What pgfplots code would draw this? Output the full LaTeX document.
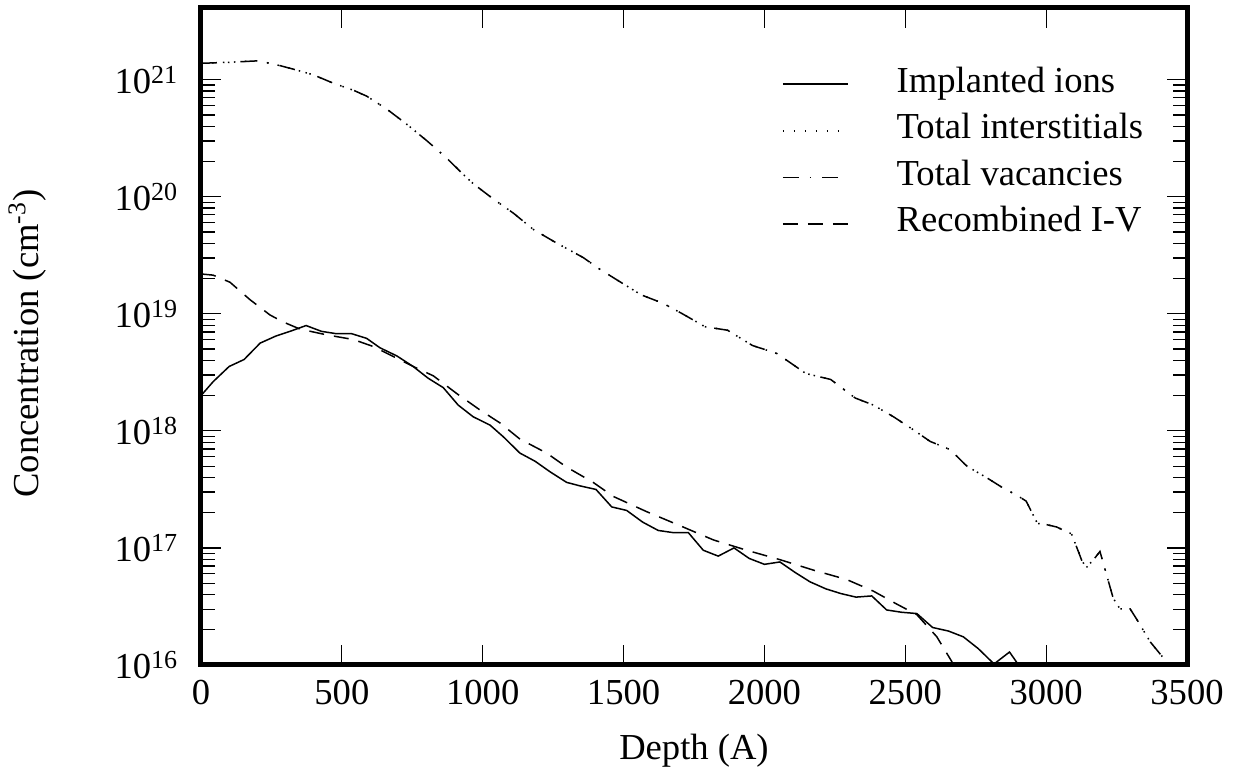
\documentclass[border=0pt]{standalone}
\usepackage{pgfplots}
\pgfplotsset{compat=1.18}
\usepackage{pgfplotstable}
\usepackage{fontspec}
\setmainfont{Liberation Serif}
\newcommand{\tl}[1]{10\raisebox{5pt}{\fontsize{13}{13}\selectfont #1}}

\pgfplotstableread{
x y
0 2.0e18
43 2.63e18
100 3.55e18
153 4.07e18
210 5.62e18
266 6.46e18
316 7.08e18
373 7.94e18
428 7.08e18
481 6.76e18
535 6.76e18
588 6.17e18
635 5.13e18
695 4.37e18
753 3.55e18
806 2.82e18
860 2.34e18
913 1.66e18
966 1.32e18
1026 1.12e18
1073 8.91e17
1132 6.46e17
1186 5.50e17
1239 4.47e17
1298 3.63e17
1345 3.39e17
1402 3.16e17
1458 2.24e17
1511 2.09e17
1568 1.66e17
1623 1.41e17
1677 1.35e17
1730 1.35e17
1783 9.55e16
1836 8.51e16
1892 1.0e17
1946 8.13e16
2000 7.24e16
2055 7.59e16
2109 6.17e16
2162 5.13e16
2218 4.47e16
2272 4.07e16
2325 3.80e16
2381 3.89e16
2434 2.95e16
2487 2.82e16
2541 2.75e16
2597 2.09e16
2653 1.95e16
2706 1.74e16
2759 1.38e16
2815 1.02e16
2870 1.29e16
2896 1.05e16
2930 7.1e15
}\ions

\pgfplotstableread{
x y
0 1.38e21
103 1.41e21
204 1.45e21
280 1.32e21
328 1.23e21
399 1.10e21
470 9.33e20
541 8.13e20
588 7.24e20
659 5.62e20
730 4.17e20
801 3.02e20
872 2.14e20
931 1.55e20
967 1.29e20
1038 9.55e19
1109 7.24e19
1180 5.25e19
1251 4.17e19
1357 3.02e19
1416 2.40e19
1490 1.86e19
1563 1.45e19
1640 1.23e19
1709 1.0e19
1789 7.76e18
1869 7.24e18
1957 5.37e18
2045 4.57e18
2147 3.09e18
2235 2.75e18
2322 1.91e18
2387 1.66e18
2458 1.32e18
2529 1.02e18
2588 8.13e17
2659 6.92e17
2718 5.01e17
2789 3.98e17
2848 3.24e17
2896 2.82e17
2929 2.51e17
2969 1.62e17
3002 1.58e17
3037 1.51e17
3090 1.32e17
3108 1.02e17
3138 6.9e16
3162 7.59e16
3191 9.33e16
3238 3.72e16
3262 3.02e16
3298 3.02e16
3327 2.34e16
3369 1.58e16
3416 1.15e16
3430 1.0e16
}\inter

\pgfplotstableread{
x y
0 1.38e21
103 1.41e21
204 1.45e21
280 1.32e21
328 1.23e21
399 1.10e21
470 9.33e20
541 8.13e20
588 7.24e20
659 5.62e20
730 4.17e20
801 3.02e20
872 2.14e20
931 1.55e20
967 1.29e20
1038 9.55e19
1109 7.24e19
1180 5.25e19
1251 4.17e19
1357 3.02e19
1416 2.40e19
1490 1.86e19
1563 1.45e19
1640 1.23e19
1709 1.0e19
1789 7.76e18
1869 7.24e18
1957 5.37e18
2045 4.57e18
2147 3.09e18
2235 2.75e18
2322 1.91e18
2387 1.66e18
2458 1.32e18
2529 1.02e18
2588 8.13e17
2659 6.92e17
2718 5.01e17
2789 3.98e17
2848 3.24e17
2896 2.82e17
2929 2.51e17
2969 1.62e17
3002 1.58e17
3037 1.51e17
3090 1.32e17
3108 1.02e17
3138 6.61e16
3162 7.59e16
3191 9.33e16
3238 3.72e16
3262 3.02e16
3298 3.02e16
3327 2.34e16
3369 1.58e16
3416 1.15e16
3430 1.0e16
}\vac

\pgfplotstableread{
x y
0 2.19e19
43 2.14e19
103 1.86e19
174 1.32e19
245 9.77e18
292 8.51e18
351 7.41e18
446 6.61e18
541 6.03e18
612 5.25e18
695 4.17e18
753 3.55e18
825 2.95e18
907 2.09e18
990 1.51e18
1061 1.17e18
1132 8.51e17
1227 6.46e17
1298 4.90e17
1392 3.63e17
1464 2.75e17
1582 2.04e17
1700 1.55e17
1819 1.17e17
1937 9.55e16
2055 7.94e16
2174 6.46e16
2292 5.37e16
2387 4.27e16
2470 3.31e16
2541 2.69e16
2612 1.74e16
2665 1.07e16
2690 7.9e15
}\recomb

\begin{document}
\begin{tikzpicture}
\begin{axis}[
  at={(0,0)}, anchor=south west,
  scale only axis, width=493pt, height=328.5pt,
  xmin=0, xmax=3500, ymode=log, ymin=1e16, ymax=4.1e21,
  xtick={0,500,...,3500},
  ytick={1e16,1e17,1e18,1e19,1e20,1e21},
  yticklabels={\tl{16},\tl{17},\tl{18},\tl{19},\tl{20},\tl{21}},
  tick align=inside,
  major tick length=10pt, minor tick length=7pt,
  every tick/.style={black, line width=0.6pt},
  axis line style={line width=2.5pt},
  tick label style={font=\fontsize{18.3}{21}\selectfont},
  /pgf/number format/assume math mode=true,
  /pgf/number format/1000 sep={},
  xticklabel shift=4.2pt, yticklabel shift=8.4pt,
  xlabel={Depth (A)},
  ylabel={Concentration (cm\textsuperscript{-3})},
  label style={font=\fontsize{18.3}{21}\selectfont},
  xlabel style={at={(axis description cs:0.5,-0.1446)}, anchor=base},
  ylabel style={at={(axis description cs:-0.1653,0.489)}, anchor=base},
  legend style={draw=none, fill=none, at={(axis description cs:0.589,0.909)}, anchor=north west,
    inner sep=0pt, font=\fontsize{18.3}{21}\selectfont,
    nodes={inner sep=0pt, text height=12pt, text depth=4pt},
    row sep=7.3pt, column sep=24pt},
  legend cell align=left,
  legend image code/.code={\draw[#1] (0pt,0pt) -- (32.5pt,0pt);},
]
\addplot[black, line width=0.75pt] table {\ions};
\addlegendentry{Implanted ions}
\addplot[black, line width=0.75pt, dash pattern=on 0.75pt off 4.75pt] table {\inter};
\addlegendentry{Total interstitials}
\addplot[black, line width=0.75pt, dash pattern=on 8pt off 5.5pt on 0.75pt off 5.5pt] table {\vac};
\addlegendentry{Total vacancies}
\addplot[black, line width=0.75pt, dash pattern=on 7.5pt off 5pt] table {\recomb};
\addlegendentry{Recombined I-V}
\end{axis}
\pgfresetboundingbox
\path (-100.5pt,-52.5pt) rectangle (518pt,332.5pt);
\end{tikzpicture}
\end{document}
